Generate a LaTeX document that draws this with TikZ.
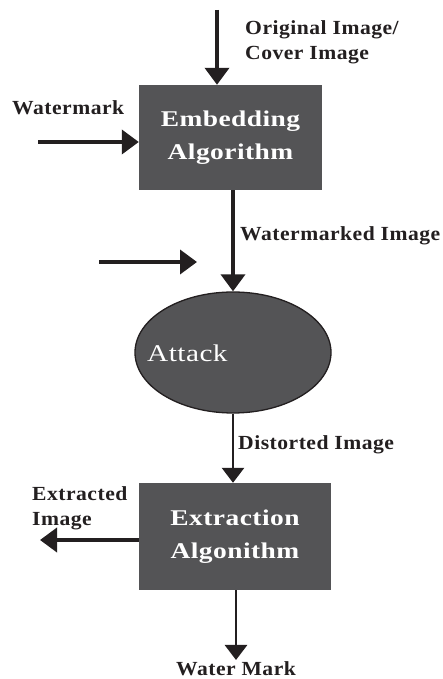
\documentclass[tikz,border=0pt]{standalone}
\usepackage{fontspec}
\setmainfont{Liberation Serif}
\newfontfamily\boxfont[FakeStretch=1.22,LetterSpace=2]{Liberation Serif}
\newfontfamily\lblfont[FakeStretch=1.08,LetterSpace=2.5]{Liberation Serif}
\usetikzlibrary{arrows.meta,shapes.geometric}
\definecolor{boxgray}{HTML}{545456}
\definecolor{ink}{HTML}{231F20}
\tikzset{
  procbox/.style={draw=none,fill=boxgray,text=white,font=\boxfont\fontsize{22.5}{33}\selectfont\bfseries,
    align=center,inner sep=0pt},
  attackshape/.style={ellipse,draw=ink,line width=1.3pt,fill=boxgray,inner sep=0pt},
  lbl/.style={font=\lblfont\fontsize{20}{25.5}\selectfont\bfseries,text=ink,inner sep=0pt},
  thickarrow/.style={draw=ink,line width=3.8pt,-{Triangle[width=24pt,length=17pt]}},
  thinarrow/.style={draw=ink,line width=2.8pt,-{Triangle[width=22pt,length=15pt]}},
}
\begin{document}
\begin{tikzpicture}[x=1pt,y=1pt]
\useasboundingbox (0,0) rectangle (442,679);
\fill[white] (0,0) rectangle (442,679);

% process blocks
\node[procbox,minimum width=183pt,minimum height=105pt] (emb) at (230.5,541.5) {Embedding\\Algorithm};
\node[attackshape,minimum width=196pt,minimum height=121pt] (att) at (233,326.5) {};
\node[text=white,font=\boxfont\fontsize{24}{28}\selectfont,anchor=base west,inner sep=0pt] (attlbl) at (147,317.5) {Attack};
\node[procbox,minimum width=192pt,minimum height=107pt] (ext) at (235,142.5) {Extraction\\Algonithm};

% free ends of the connectors
\coordinate (cover) at (217,669);
\coordinate (wmin) at (38,537);
\coordinate (atkA) at (99,417);
\coordinate (atkB) at (197,417);
\coordinate (outimg) at (40,139);
\coordinate (outwm) at (236,19);

% connectors
\draw[thickarrow] (cover) -- (cover |- emb.north);
\draw[thickarrow] (wmin) -- (wmin -| emb.west);
\draw[thickarrow] (emb.south -| att.north) -- (att.north);
\draw[thickarrow] (atkA) -- (atkB);
\draw[thinarrow] (att.south) -- (att.south |- ext.north);
\draw[thickarrow] (ext.west |- outimg) -- (outimg);
\draw[thinarrow] (ext.south -| outwm) -- (outwm);

% labels (base of a two-line label is its last line)
\node[lbl,anchor=base west,align=left] (lcover) at (245,619) {Original Image/\\Cover Image};
\node[lbl,anchor=base west] (lwm) at (12,564) {Watermark};
\node[lbl,anchor=base west] (lwmd) at (240,438) {Watermarked Image};
\node[lbl,anchor=base west] (ldist) at (238,229) {Distorted Image};
\node[lbl,anchor=base west,align=left] (lext) at (32,153) {Extracted\\Image};
\node[lbl,anchor=base] (lwmark) at (236,3) {Water Mark};
\end{tikzpicture}
\end{document}
